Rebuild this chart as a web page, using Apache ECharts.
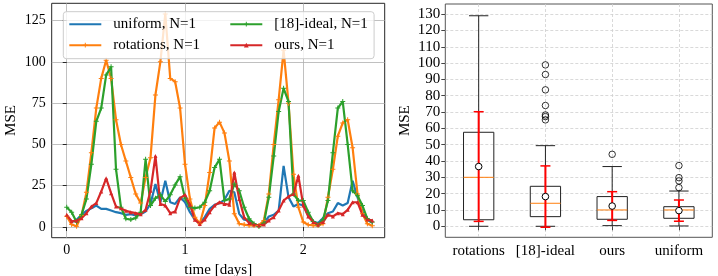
<!DOCTYPE html>
<html><head><meta charset="utf-8">
<script src="https://cdn.jsdelivr.net/npm/echarts@6/dist/echarts.min.js"></script>
<style>html,body{margin:0;padding:0;background:#fff}#c{width:718px;height:276px}</style>
</head><body><div id="c"></div>
<script>
// ---- left chart: MSE over time, one value per hour ----
const uniform   = [6.4,3,4.4,7.4,9.8,11.4,13,11,11,10,9,8.4,7.4,7.8,7,7.8,9.4,14,26,15,28,15,14,18,15,9,4.4,2.4,6,11,13.5,14.5,16.5,22,21,8,4.4,4,1.5,1,2.4,6.4,7.4,10,37,18,12.5,14,13,7.4,3.4,2.4,5.4,8.4,9.4,14.5,13,14.5,28,18,9.4,4.4,2.5];
const rotations = [6.5,1.5,0.5,7,21,45,72,90,101,90,65,50,40,30,20,14.5,30,42,80,100,129,90,88,72,38,17,6,2,13,33,60,63.5,57,40,8,2,1.5,1,1,1,4,20,50,77,107,75,32,12,3,1.4,1,1,2,18,35,55,63,65,48,20,8,2,0.8];
const ideal18   = [12,9,3,7.4,17,38,64,72,92,97,35,12,5,4.5,5.5,9,41,13,17.5,19.5,15.5,19.5,25.5,30.5,17.5,12,11.5,12,15,22,36,41,16,17,26,22,12,5,2,0.4,2.4,18,43,70,84,76,20,16,16,9,3.4,1.4,4.4,16,45,72,76,50,22,19,13,5,3];
const ours      = [7.4,3.5,3.8,5.4,8.4,12.4,14.5,21.5,29.5,20.5,12.4,11.4,9.8,9,8.4,7.8,10.4,22,43,14,13,8.4,9.4,17.5,19.5,13.5,4.4,1.8,4.5,9,13,15,14,13.5,33,17,6,2.5,1.5,1,1.5,4,6,10,16,18.5,20,31,13,6.4,3,1.4,3,7.4,6.4,8.4,7.8,10.4,15,15,7.4,4.5,4];
const lineNames = ['uniform, N=1','rotations, N=1','[18]-ideal, N=1','ours, N=1'];
const dayTicks  = [0,1,2];

// ---- right chart: box plots ----
const categories  = ['rotations','[18]-ideal','ours','uniform'];
const whiskerLow  = [0,0,0.4,0.2];
const q1          = [4,5.9,4.3,4.9];
const medians     = [30,14.1,10,10];
const q3          = [57.6,24.5,18.2,12];
const whiskerHigh = [129,49.4,36.6,21.6];
const means       = [36.6,18.2,12.4,9.6];
const stds        = [33.6,18.8,8.8,6.5];
const outliers    = [[],[65.2,67.2,68.2,74,83.6,93,98.9],[44.1],[23.7,27.8,29.8,37.2]];

const SERIF = '"Liberation Serif","Times New Roman",serif';
const plusPath = 'path://M-0.2,-1H0.2V-0.2H1V0.2H0.2V1H-0.2V0.2H-1V-0.2H-0.2Z';
const toPairs = vals => vals.map((v, i) => [i / 24, v]);

const chart = echarts.init(document.getElementById('c'), null, {renderer: 'canvas'});

const legendText = {fontSize: 15, fontFamily: SERIF, color: '#000', padding: [0, 0, 0, 7]};

const option = {
  animation: false,
  textStyle: {fontFamily: SERIF},
  grid: [
    {left: 51.7, top: 3.3, width: 333, height: 234.4, show: true, borderColor: '#262626', borderWidth: 1,
     backgroundColor: 'rgba(0,0,0,0)', containLabel: false, outerBoundsMode: 'none'},
    {left: 445.3, top: 4, width: 267, height: 233.3, show: true, borderColor: '#555', borderWidth: 1,
     backgroundColor: 'rgba(0,0,0,0)', containLabel: false, outerBoundsMode: 'none'}
  ],
  legend: [
    {data: [{name: lineNames[0], itemStyle: {color: 'rgba(0,0,0,0)', borderWidth: 0, opacity: 0}}, {name: lineNames[1]}],
     orient: 'vertical', left: 63.3, top: 11.7,
     padding: [5, 174, 6, 5], itemWidth: 32, itemHeight: 6, itemGap: 6, selectedMode: false,
     textStyle: legendText, backgroundColor: 'rgba(255,255,255,0.8)', borderColor: '#cccccc', borderWidth: 1, borderRadius: 3},
    {data: [lineNames[2], lineNames[3]], orient: 'vertical', left: 229.3, top: 16.7,
     padding: 0, itemWidth: 32, itemHeight: 6, itemGap: 6, selectedMode: false, textStyle: legendText}
  ],
  xAxis: [
    {type: 'value', gridIndex: 0, min: -0.127, max: 2.688, minInterval: 1, maxInterval: 1,
     name: 'time [days]', nameLocation: 'middle', nameGap: 19,
     nameTextStyle: {fontSize: 15, color: '#000', fontFamily: SERIF},
     axisLine: {show: false},
     axisTick: {show: true, length: 4, lineStyle: {color: '#262626'}, customValues: dayTicks},
     axisLabel: {fontSize: 14, color: '#000', margin: 6, showMinLabel: false, showMaxLabel: false, fontFamily: SERIF},
     splitLine: {show: true, lineStyle: {color: '#b0b0b0', width: 0.8}}},
    {type: 'value', gridIndex: 1, min: 0.5, max: 4.5, minInterval: 1, maxInterval: 1,
     axisLine: {show: false},
     axisTick: {show: true, length: 4, lineStyle: {color: '#444'}, customValues: [1,2,3,4]},
     axisLabel: {fontSize: 15, color: '#000', margin: 6, showMinLabel: false, showMaxLabel: false, fontFamily: SERIF,
                 formatter: v => categories[Math.round(v) - 1] || ''},
     splitLine: {show: true, lineStyle: {color: '#cfcfcf', width: 0.8, type: [3, 2]}}}
  ],
  yAxis: [
    {type: 'value', gridIndex: 0, min: -6.45, max: 135.45, minInterval: 25, maxInterval: 25,
     name: 'MSE', nameLocation: 'middle', nameGap: 33,
     nameTextStyle: {fontSize: 15, color: '#000', fontFamily: SERIF},
     axisLine: {show: false},
     axisTick: {show: true, length: 4, lineStyle: {color: '#262626'}, customValues: [0,25,50,75,100,125]},
     axisLabel: {fontSize: 14, color: '#000', margin: 6, showMinLabel: false, showMaxLabel: false, fontFamily: SERIF},
     splitLine: {show: true, lineStyle: {color: '#b0b0b0', width: 0.8}}},
    {type: 'value', gridIndex: 1, min: -6.75, max: 136.2, minInterval: 10, maxInterval: 10,
     name: 'MSE', nameLocation: 'middle', nameGap: 33,
     nameTextStyle: {fontSize: 15, color: '#000', fontFamily: SERIF},
     axisLine: {show: false},
     axisTick: {show: true, length: 4, lineStyle: {color: '#444'}, customValues: [0,10,20,30,40,50,60,70,80,90,100,110,120,130]},
     axisLabel: {fontSize: 15, color: '#000', margin: 5, showMinLabel: false, showMaxLabel: false, fontFamily: SERIF},
     splitLine: {show: true, lineStyle: {color: '#cfcfcf', width: 0.8, type: [3, 2]}}}
  ],
  series: [
    {name: lineNames[0], type: 'line', xAxisIndex: 0, yAxisIndex: 0, data: toPairs(uniform),
     symbol: 'none', showSymbol: false, color: '#1f77b4', lineStyle: {width: 2.2, color: '#1f77b4'}},
    {name: lineNames[1], type: 'line', xAxisIndex: 0, yAxisIndex: 0, data: toPairs(rotations),
     symbol: plusPath, symbolSize: 5, showSymbol: true, showAllSymbol: true, color: '#ff7f0e',
     itemStyle: {color: '#ff7f0e'}, lineStyle: {width: 2.2, color: '#ff7f0e'}},
    {name: lineNames[2], type: 'line', xAxisIndex: 0, yAxisIndex: 0, data: toPairs(ideal18),
     symbol: plusPath, symbolSize: 5, showSymbol: true, showAllSymbol: true, color: '#2ca02c',
     itemStyle: {color: '#2ca02c'}, lineStyle: {width: 2.2, color: '#2ca02c'}},
    {name: lineNames[3], type: 'line', xAxisIndex: 0, yAxisIndex: 0, data: toPairs(ours),
     symbol: 'triangle', symbolSize: 4, showSymbol: true, showAllSymbol: true, color: '#d62728',
     itemStyle: {color: '#d62728'}, lineStyle: {width: 2.2, color: '#d62728'}},
    {type: 'custom', xAxisIndex: 1, yAxisIndex: 1,
     data: categories.map((c, i) => [i + 1, whiskerLow[i], q1[i], medians[i], q3[i], whiskerHigh[i], means[i], stds[i]]),
     encode: {x: 0, y: [1, 5]},
     renderItem: (params, api) => {
       const x = api.value(0);
       const py = v => api.coord([x, v])[1];
       const cx = api.coord([x, 0])[0];
       const unit = api.size([1, 0])[0];
       const bw = 0.454 * unit / 2, cw = 0.29 * unit / 2, ew = 5;
       const yLo = py(api.value(1)), yQ1 = py(api.value(2)), yMed = py(api.value(3)),
             yQ3 = py(api.value(4)), yHi = py(api.value(5));
       const m = api.value(6), sd = api.value(7);
       const yM = py(m), yEl = py(m - sd), yEh = py(m + sd);
       const k = {stroke: '#222', lineWidth: 1, fill: null};
       const ln = (x1, y1, x2, y2, st) => ({type: 'line', shape: {x1, y1, x2, y2}, style: st});
       const red = {stroke: '#ff0000', lineWidth: 2};
       return {type: 'group', children: [
         ln(cx, yQ1, cx, yLo, k), ln(cx, yQ3, cx, yHi, k),
         ln(cx - cw, yLo, cx + cw, yLo, k), ln(cx - cw, yHi, cx + cw, yHi, k),
         {type: 'rect', shape: {x: cx - bw, y: yQ3, width: 2 * bw, height: yQ1 - yQ3}, style: {stroke: '#222', lineWidth: 1, fill: 'rgba(0,0,0,0)'}},
         ln(cx - bw, yMed, cx + bw, yMed, {stroke: '#ff7f0e', lineWidth: 1}),
         ln(cx, yEl, cx, yEh, red),
         ln(cx - ew, yEl, cx + ew, yEl, {stroke: '#ff0000', lineWidth: 1.5}),
         ln(cx - ew, yEh, cx + ew, yEh, {stroke: '#ff0000', lineWidth: 1.5}),
         {type: 'circle', shape: {cx: cx, cy: yM, r: 3.3}, style: {fill: '#fff', stroke: '#000', lineWidth: 1}}
       ]};
     }},
    {type: 'scatter', xAxisIndex: 1, yAxisIndex: 1,
     data: outliers.flatMap((vals, i) => vals.map(v => [i + 1, v])),
     symbol: 'circle', symbolSize: 6.5,
     itemStyle: {color: 'rgba(0,0,0,0)', borderColor: '#000', borderWidth: 1}}
  ]
};
chart.setOption(option);
</script>
</body></html>
